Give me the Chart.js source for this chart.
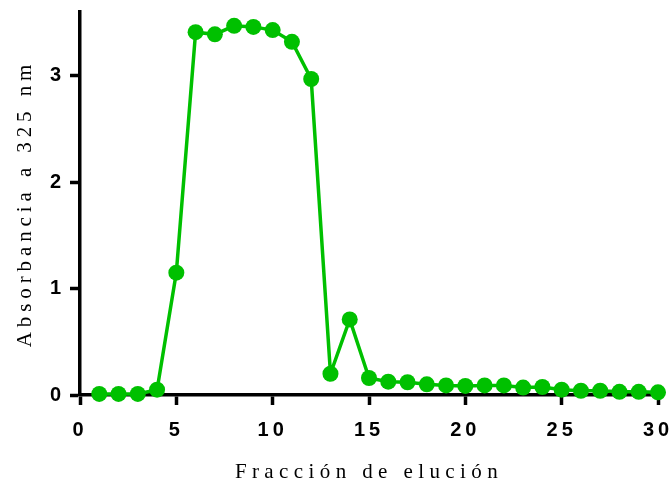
<!DOCTYPE html>
<html>
<head>
<meta charset="utf-8">
<script src="https://cdn.jsdelivr.net/npm/chart.js@4.4.0/dist/chart.umd.min.js"></script>
<style>
  html, body { margin: 0; padding: 0; background: #fff; }
</style>
</head>
<body>
<canvas id="chart" width="670" height="485"></canvas>
<script>
// Elution profile: absorbance per fraction
const fractions = [1, 2, 3, 4, 5, 6, 7, 8, 9, 10, 11, 12, 13, 14, 15,
  16, 17, 18, 19, 20, 21, 22, 23, 24, 25, 26, 27, 28, 29, 30];
const absorbance = [0.01, 0.01, 0.01, 0.05, 1.15, 3.41, 3.39, 3.47, 3.46, 3.43, 3.32, 2.97, 0.20, 0.71, 0.16,
  0.125, 0.12, 0.10, 0.09, 0.085, 0.09, 0.09, 0.07, 0.075, 0.05, 0.04, 0.04, 0.03, 0.03, 0.025];
const xTicks = [0, 5, 10, 15, 20, 25, 30];
const yTicks = [0, 1, 2, 3];

const GREEN = '#00c000';

// letter spacing per axis for titles and tick labels
const SPACING = {
  x: { title: '5.4px', labels: '4px' },
  y: { title: '4.9px', labels: '4px' },
};

function spaced(ctx, sp, fn) {
  const old = ctx.letterSpacing;
  ctx.letterSpacing = sp;
  fn();
  ctx.letterSpacing = old || '0px';
}
const spacedText = {
  id: 'spacedText',
  beforeDraw(chart) {
    Object.values(chart.scales).forEach((s) => {
      if (s._spaced || !SPACING[s.id]) return;
      s._spaced = true;
      const sp = SPACING[s.id];
      const dt = s.drawTitle, dl = s.drawLabels;
      s.drawTitle = function (...a) { spaced(this.ctx, sp.title, () => dt.apply(this, a)); };
      s.drawLabels = function (...a) { spaced(this.ctx, sp.labels, () => dl.apply(this, a)); };
    });
  },
};

const axisCommon = {
  border: { display: true, color: '#000', width: 3.5 },
  grid: { display: true, drawOnChartArea: false, drawTicks: true, tickLength: 10, tickWidth: 3.5, tickColor: '#000' },
};
const tickFont = { family: 'Liberation Sans', size: 20, weight: 'bold' };
const titleFont = { family: 'Liberation Serif', size: 21, weight: 'normal' };

new Chart(document.getElementById('chart'), {
  type: 'line',
  data: {
    datasets: [{
      data: fractions.map((f, i) => ({ x: f, y: absorbance[i] })),
      borderColor: GREEN,
      backgroundColor: GREEN,
      borderWidth: 3.5,
      pointRadius: 8,
      pointHoverRadius: 8,
      pointBorderWidth: 0,
      tension: 0,
      clip: false,
    }],
  },
  options: {
    responsive: false,
    animation: false,
    layout: { padding: { top: 12, right: 12, left: 0, bottom: 0 } },
    plugins: { legend: { display: false }, tooltip: { enabled: false } },
    scales: {
      x: {
        ...axisCommon,
        type: 'linear',
        min: 0,
        max: 30,
        afterBuildTicks: (s) => { s.ticks = xTicks.map((v) => ({ value: v })); },
        afterFit: (s) => { s.height = 90; s.paddingLeft = 0; s.paddingRight = 0; },
        ticks: { color: '#000', padding: 13, maxRotation: 0, font: tickFont },
        title: {
          display: true,
          text: 'Fracción de elución',
          color: '#000',
          padding: { top: 0, bottom: 0 },
          font: titleFont,
        },
      },
      y: {
        ...axisCommon,
        min: 0,
        max: 3.6,
        afterBuildTicks: (s) => { s.ticks = yTicks.map((v) => ({ value: v })); },
        afterFit: (s) => { s.width = 80; s.paddingTop = 0; s.paddingBottom = 0; },
        ticks: { color: '#000', padding: 5, font: tickFont },
        title: {
          display: true,
          text: 'Absorbancia a 325 nm',
          color: '#000',
          padding: { top: 13, bottom: 0 },
          font: titleFont,
        },
      },
    },
  },
  plugins: [spacedText],
});
</script>
</body>
</html>
